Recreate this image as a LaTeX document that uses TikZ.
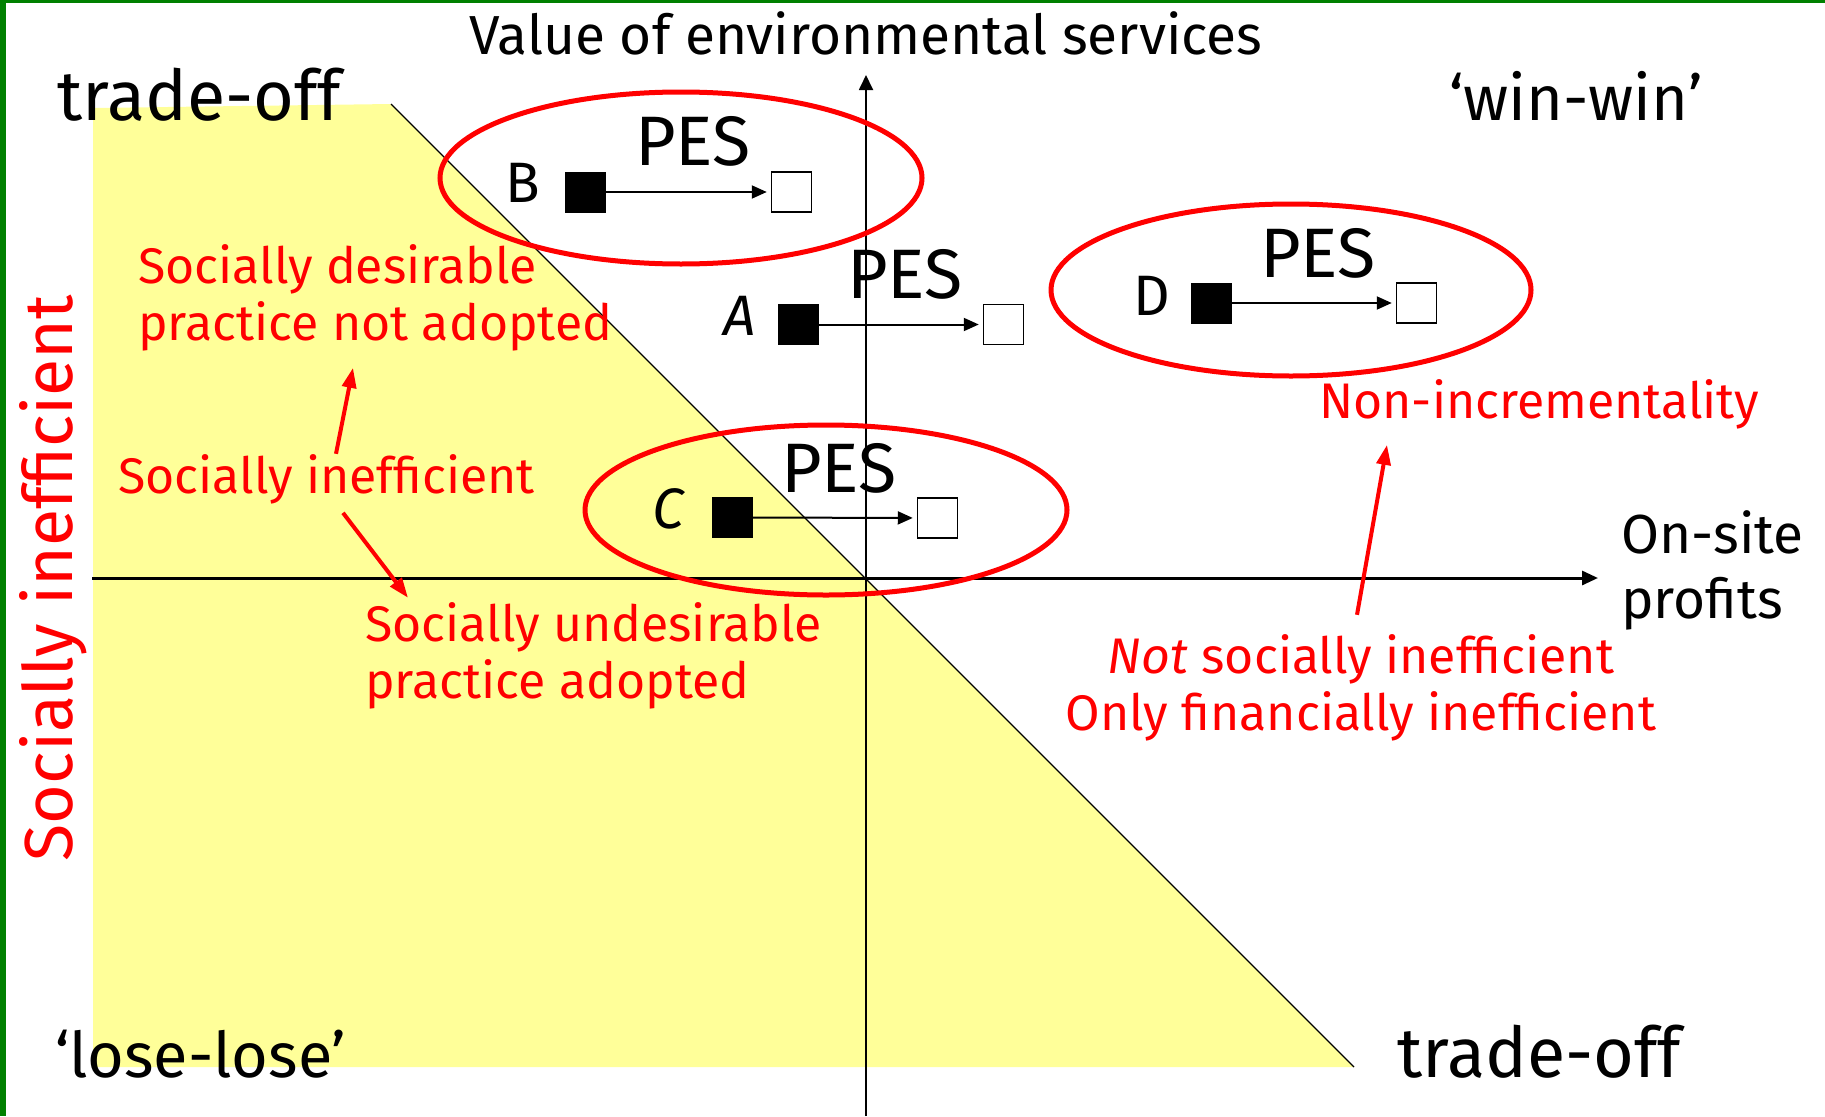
\documentclass[tikz,border=0pt]{standalone}
\usepackage{fontspec}
\setmainfont{Fira Sans}
\usetikzlibrary{arrows.meta, positioning}
\definecolor{paleyellow}{RGB}{255,255,153}
\definecolor{framegreen}{RGB}{0,128,0}

\begin{document}
\begin{tikzpicture}[x=1pt, y=-1pt, inner sep=0pt]
  \tikzstyle{cornerlabel}=[font=\fontsize{70}{84}\selectfont, anchor=base west]
  \tikzstyle{quotelabel}=[font=\fontsize{63}{76}\selectfont, anchor=base west]
  \tikzstyle{axislabel}=[font=\fontsize{55}{65}\selectfont]
  \tikzstyle{rednote}=[text=red, font=\fontsize{50}{57}\selectfont, anchor=base west, align=left]
  \tikzstyle{peslabel}=[font=\fontsize{70}{84}\selectfont, anchor=base]
  \tikzstyle{caselabel}=[font=\fontsize{57}{68}\selectfont, anchor=base east]
  \tikzstyle{startbox}=[draw, fill=black, minimum size=40pt]
  \tikzstyle{endbox}=[draw, line width=1.5pt, fill=white, minimum size=40pt]
  \tikzstyle{pesmove}=[line width=2pt, -{Triangle[length=15pt, width=13pt]}, shorten >=4pt]
  \tikzstyle{pesring}=[draw=red, line width=5pt]
  \tikzstyle{redarrow}=[red, line width=4pt, -{Triangle[length=20pt, width=14pt]}]
  \useasboundingbox (0,0) rectangle (1825,1116);

  \coordinate (diagtop) at (391,104);
  \coordinate (diagbot) at (1354,1067);
  \coordinate (xstart) at (92,578);
  \coordinate (xend) at (1598,578);
  \coordinate (ybottom) at (866,1116);
  \coordinate (ytop) at (866,75);

  % frame and shaded region
  \fill[framegreen] (0,0) rectangle (6,1116);
  \fill[framegreen] (0,0) rectangle (1825,3);
  \fill[paleyellow] (93,108) -- (diagtop) -- (diagbot) -- (93,1067) -- cycle;
  \draw[line width=1.3pt] (diagtop) -- (diagbot);

  % axes
  \draw[line width=3pt, -{Triangle[length=16pt, width=14pt]}] (xstart) -- (xend);
  \draw[line width=1.8pt, -{Triangle[length=15pt, width=14pt]}] (ybottom) -- (ytop);
  \node[axislabel, anchor=base] (vtitle) at (866,55) {Value of environmental services};
  \node[axislabel, anchor=base west, align=left] (xtitle) at (1621,618) {On-site\\profits};

  \node[cornerlabel] (tl) at (57,120) {trade-off};
  \node[quotelabel] (tr) at (1449,120) {`win-win'};
  \node[quotelabel] (bl) at (55,1077) {`lose-lose'};
  \node[cornerlabel] (br) at (1397,1077) {trade-off};
  \node[text=red, font=\fontsize{68}{82}\selectfont, rotate=90, anchor=base] (sidelabel) at (72,578) {Socially inefficient};

  % rings
  \draw[pesring] (681,178) ellipse [x radius=241, y radius=86];
  \draw[pesring] (1291,290) ellipse [x radius=240, y radius=86];
  \draw[pesring] (826,510) ellipse [x radius=241, y radius=85];

  % case B
  \node[startbox] (Bsrc) at (585.5,192) {};
  \node[endbox] (Bdst) at (791.5,192) {};
  \draw[pesmove] (Bsrc) -- (Bdst);
  \node[caselabel] (Blab) at (540,202) {B};
  \node[peslabel] (Bpes) at (693,165) {PES};
  % case A
  \node[startbox] (Asrc) at (798.5,324.5) {};
  \node[endbox] (Adst) at (1003.5,324.5) {};
  \draw[pesmove] (Asrc) -- (Adst);
  \node[caselabel] (Alab) at (756,335) {\textit{A}};
  \node[peslabel] (Apes) at (905,298) {PES};
  % case D
  \node[startbox] (Dsrc) at (1211,303) {};
  \node[endbox] (Ddst) at (1416.5,303) {};
  \draw[pesmove] (Dsrc) -- (Ddst);
  \node[caselabel] (Dlab) at (1170,315) {D};
  \node[peslabel] (Dpes) at (1318,277) {PES};
  % case C
  \node[startbox] (Csrc) at (732,517.5) {};
  \node[endbox] (Cdst) at (937.5,518) {};
  \draw[pesmove] (Csrc) -- (Cdst);
  \node[caselabel] (Clab) at (686,528) {\textit{C}};
  \node[peslabel] (Cpes) at (839,492) {PES};

  % red notes
  \node[rednote] (desirable) at (138,340) {Socially desirable\\practice not adopted};
  \node[rednote] (ineff) at (118,493) {Socially inefficient};
  \node[rednote] (undesir) at (365,698) {Socially undesirable\\practice adopted};
  \node[rednote] (nonincr) at (1319,418) {Non-incrementality};
  \node[rednote, align=center, anchor=base] (notineff) at (1361,730) {\textit{Not} socially inefficient\\Only financially inefficient};

  \draw[redarrow] ([xshift=218pt]ineff.north west) -- ([xshift=215pt, yshift=-17pt]desirable.south west);
  \draw[redarrow] ([xshift=225pt, yshift=-9pt]ineff.south west) -- ([xshift=43pt, yshift=4pt]undesir.north west);
  \draw[redarrow] ([xshift=-4pt, yshift=19pt]notineff.north) -- ([xshift=68pt, yshift=-16pt]nonincr.south west);
\end{tikzpicture}
\end{document}
